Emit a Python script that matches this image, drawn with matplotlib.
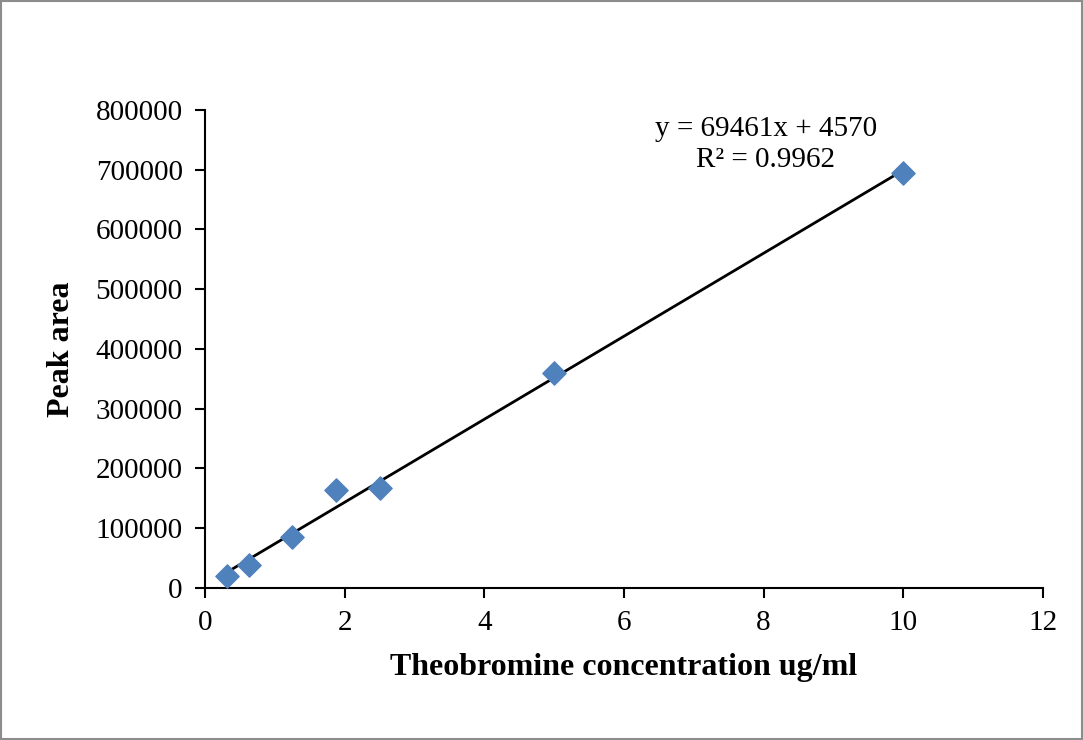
import numpy as np
import matplotlib.pyplot as plt

plt.rcParams['font.family'] = ['Liberation Serif', 'DejaVu Serif']

# Calibration data
conc = [0.3125, 0.625, 1.25, 1.875, 2.5, 5, 10]
area = [20000, 38000, 86000, 164000, 168000, 360000, 694000]
slope = 69461
intercept = 4570
r2 = 0.9962

fig = plt.figure(figsize=(10.83, 7.4), dpi=100)
ax = fig.add_axes([0.1893, 0.2054, 0.7737, 0.646])

xfit = np.array([conc[0], conc[-1]])
ax.plot(xfit, slope * xfit + intercept, color='black', lw=2, zorder=2)
ax.scatter(conc, area, marker='D', s=140, color='#4f81bd', zorder=3)

ax.set_xlim(0, 12)
ax.set_ylim(0, 800000)
ax.set_xticks(range(0, 13, 2))
ax.set_yticks(range(0, 800001, 100000))
ax.tick_params(direction='out', length=7, width=1.5, labelsize=21)
ax.tick_params(axis='x', pad=9)
ax.tick_params(axis='y', pad=9)
for s in ['top', 'right']:
    ax.spines[s].set_visible(False)
for s in ['left', 'bottom']:
    ax.spines[s].set_linewidth(1.5)

ax.set_xlabel('Theobromine concentration ug/ml', fontsize=23, fontweight='bold', labelpad=12)
ax.set_ylabel('Peak area', fontsize=23, fontweight='bold', labelpad=14)

ax.text(8.03, 743000, 'y = %dx + %d\nR² = %.4f' % (slope, intercept, r2), ha='center', va='center',
        fontsize=21, linespacing=1.25)

# grey frame round the whole chart
fig.patches.append(plt.Rectangle((0.001, 0.001), 0.998, 0.998, transform=fig.transFigure,
                                 fill=False, edgecolor='#8c8c8c', lw=1.5))

plt.savefig('out.png', dpi=100)
